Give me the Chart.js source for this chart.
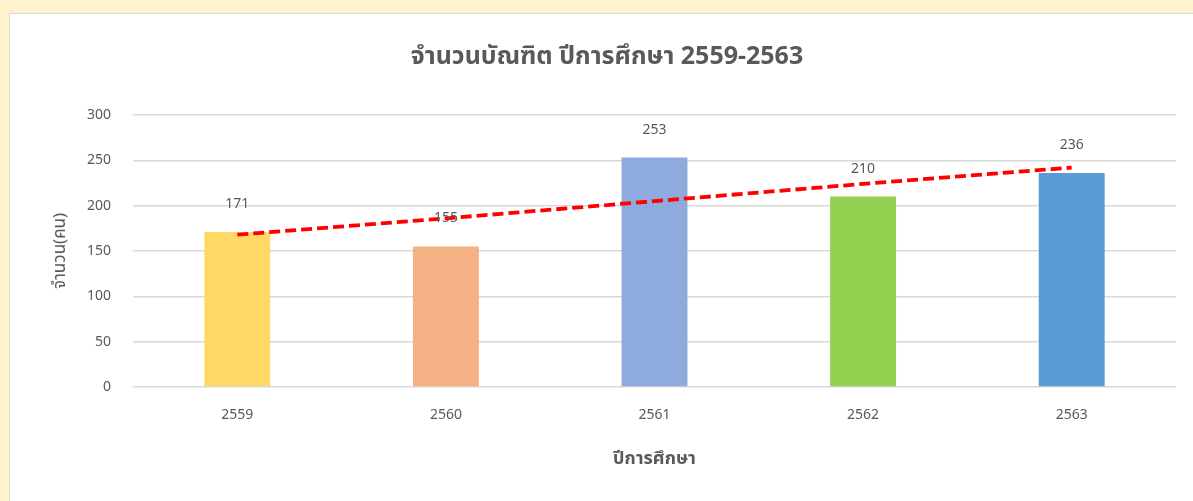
<!DOCTYPE html>
<html>
<head>
<meta charset="utf-8">
<script src="https://cdn.jsdelivr.net/npm/chart.js@4.4.1/dist/chart.umd.min.js"></script>
<style>
  html, body { margin: 0; padding: 0; background: #FFF2CC; width: 1193px; height: 501px; overflow: hidden; }
  #panel { position: absolute; left: 9px; top: 13px; width: 1184px; height: 488px; background: #fff; border-left: 1px solid #d9d9d9; border-top: 1px solid #d9d9d9; box-sizing: border-box; }
  #wrap { position: absolute; left: 0; top: 0; width: 1183px; height: 487px; }
</style>
</head>
<body>
<div id="panel"><div id="wrap"><canvas id="c"></canvas></div></div>
<script>
// data
const years = ['2559', '2560', '2561', '2562', '2563'];
const graduates = [171, 155, 253, 210, 236];
const trend = [168, 186, 205, 224, 242];
const barColors = ['#FFD966', '#F4B183', '#8FAADC', '#92D050', '#5B9BD5'];

const FONT = "'Noto Sans', 'Noto Sans Thai', 'DejaVu Sans', sans-serif";
const GREY = '#595959';

// value labels above the bars
const barLabels = {
  id: 'barLabels',
  afterDatasetsDraw(chart) {
    const ctx = chart.ctx;
    const meta = chart.getDatasetMeta(0);
    ctx.save();
    ctx.font = '14px ' + FONT;
    ctx.fillStyle = GREY;
    ctx.textAlign = 'center';
    ctx.textBaseline = 'middle';
    meta.data.forEach((bar, i) => {
      ctx.fillText(String(graduates[i]), bar.x, bar.y - 28);
    });
    ctx.restore();
  }
};

new Chart(document.getElementById('c'), {
  data: {
    labels: years,
    datasets: [
      {
        type: 'bar',
        data: graduates,
        backgroundColor: barColors,
        barPercentage: 1,
        categoryPercentage: 0.316,
        order: 2
      },
      {
        type: 'line',
        data: trend,
        borderColor: '#FF0000',
        borderWidth: 3.8,
        borderDash: [11, 5],
        pointRadius: 0,
        fill: false,
        order: 1
      }
    ]
  },
  options: {
    responsive: true,
    maintainAspectRatio: false,
    animation: false,
    layout: { padding: { left: 28, right: 17, top: 0, bottom: 0 } },
    plugins: {
      legend: { display: false },
      tooltip: { enabled: false },
      title: {
        display: true,
        text: 'จำนวนบัณฑิต ปีการศึกษา 2559-2563',
        color: GREY,
        font: { family: FONT, size: 25, weight: 'bold' },
        padding: { top: 28, bottom: 43 }
      }
    },
    scales: {
      x: {
        grid: { display: false, drawTicks: false },
        border: { display: false },
        ticks: { color: GREY, font: { family: FONT, size: 14 }, padding: 20 },
        title: {
          display: true,
          text: 'ปีการศึกษา',
          color: GREY,
          font: { family: FONT, size: 18, weight: 'bold' },
          padding: { top: 0, bottom: 31 }
        },
        afterFit(s) { s.height = 114; }
      },
      y: {
        min: 0,
        max: 300,
        ticks: { stepSize: 50, color: GREY, font: { family: FONT, size: 14 }, padding: 22 },
        grid: { color: '#d9d9d9', lineWidth: 1.5, drawTicks: false },
        border: { display: false },
        title: {
          display: true,
          text: 'จำนวน(คน)',
          color: GREY,
          font: { family: FONT, size: 17 },
          padding: { top: 12, bottom: 0 }
        },
        afterFit(s) { s.width = 95; }
      }
    }
  },
  plugins: [barLabels]
});
</script>
</body>
</html>
